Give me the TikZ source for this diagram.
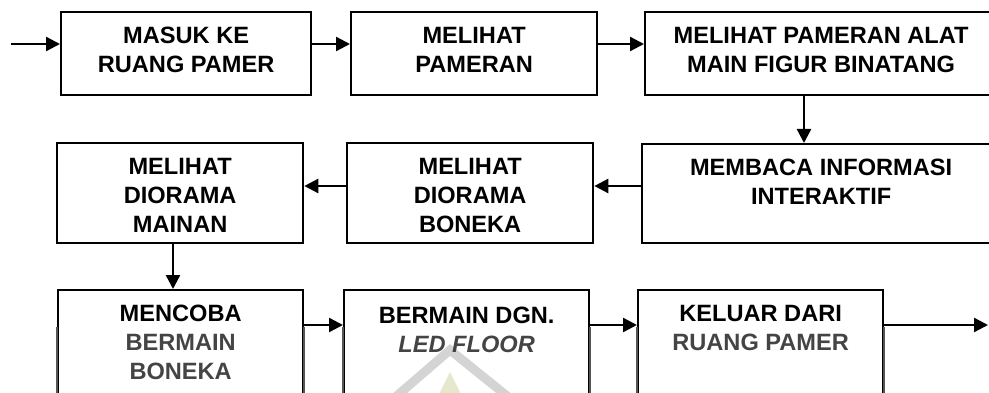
\documentclass[tikz,border=0pt]{standalone}
\usepackage{fontspec}
\setmainfont{Liberation Sans}
\usetikzlibrary{arrows.meta,positioning}
\definecolor{fadetext}{HTML}{444444}
\definecolor{fadeline}{HTML}{555555}
\definecolor{markgray}{HTML}{D4D4D4}
\definecolor{markyellow}{HTML}{E6E8CC}
\tikzset{
  stepbox/.style={draw=black, line width=2.3pt, inner sep=0pt, anchor=north west},
  steptext/.style={inner sep=0pt, align=center, anchor=north,
    font=\bfseries\fontsize{23.6}{29}\selectfont},
  flow/.style={line width=2.4pt, -{Triangle[length=14pt, width=14pt]}},
}
\begin{document}
\begin{tikzpicture}[x=1pt, y=-1pt]
\useasboundingbox (0,0) rectangle (989,393);
\clip (0,0) rectangle (989,393);

% row guides for the connectors
\coordinate (row1) at (0,44);
\coordinate (row2) at (0,186);
\coordinate (row3) at (0,325);
\coordinate (down1) at (804,0);
\coordinate (down2) at (173,0);
\coordinate (start) at (11,44);
\coordinate (finish) at (988,325);

% first row
\node[stepbox, minimum width=250pt, minimum height=83pt] (b1) at (60,11) {};
\node[stepbox, minimum width=246pt, minimum height=83pt] (b2) at (350,11) {};
\node[stepbox, minimum width=352pt, minimum height=83pt] (b3) at (644,11) {};

% second row
\node[stepbox, minimum width=358pt, minimum height=99pt] (b4) at (641,143) {};
\node[stepbox, minimum width=246pt, minimum height=100pt] (b5) at (346,142) {};
\node[stepbox, minimum width=246pt, minimum height=100pt] (b6) at (56,142) {};

% third row (runs past the lower edge)
\node[stepbox, minimum width=245pt, minimum height=140pt] (b7) at (57,289) {};
\node[stepbox, minimum width=245pt, minimum height=140pt] (b8) at (343,289) {};
\node[stepbox, minimum width=245pt, minimum height=140pt] (b9) at (637,289) {};

% faded lower part of the third row
\begin{scope}
  \clip (0,327.5) rectangle (989,393);
  \foreach \b in {b7,b8,b9}
    \draw[fadeline, line width=2.3pt] (\b.north west) rectangle (\b.south east);
\end{scope}

% faint emblem inside the middle box of the third row
\begin{scope}
  \clip (b8.north west) rectangle (b8.south east);
  \draw[markgray, line width=9pt] (392,400) -- (450,350) -- (512,400);
  \fill[markyellow] (450,372) -- (464,400) -- (436,400) -- cycle;
\end{scope}

% labels
\node[steptext, below=16pt of b1.north] (t1) {MASUK KE\\RUANG PAMER};
\node[steptext, below=16pt of b2.north] (t2) {MELIHAT\\PAMERAN};
\node[steptext, below=16pt of b3.north] (t3) {MELIHAT PAMERAN ALAT\\MAIN FIGUR BINATANG};
\node[steptext, below=16pt of b4.north] (t4) {MEMBACA INFORMASI\\INTERAKTIF};
\node[steptext, below=16pt of b5.north] (t5) {MELIHAT\\DIORAMA\\BONEKA};
\node[steptext, below=16pt of b6.north] (t6) {MELIHAT\\DIORAMA\\MAINAN};
\node[steptext, below=16pt of b7.north] (t7)
  {MENCOBA\\\textcolor{fadetext}{BERMAIN}\\\textcolor{fadetext}{BONEKA}};
\node[steptext, below=18pt of b8.north] (t8)
  {BERMAIN DGN.\\\textcolor{fadetext}{\itshape LED FLOOR}};
\node[steptext, below=16pt of b9.north] (t9)
  {KELUAR DARI\\\textcolor{fadetext}{RUANG PAMER}};

% connectors
\draw[flow] (start) -- (start -| b1.west);
\draw[flow] (b1.east |- row1) -- (b2.west |- row1);
\draw[flow] (b2.east |- row1) -- (b3.west |- row1);
\draw[flow] (b3.south -| down1) -- (b4.north -| down1);
\draw[flow] (b4.west |- row2) -- (b5.east |- row2);
\draw[flow] (b5.west |- row2) -- (b6.east |- row2);
\draw[flow] (b6.south -| down2) -- (b7.north -| down2);
\draw[flow] (b7.east |- row3) -- (b8.west |- row3);
\draw[flow] (b8.east |- row3) -- (b9.west |- row3);
\draw[flow] (b9.east |- row3) -- (finish);
\end{tikzpicture}
\end{document}
